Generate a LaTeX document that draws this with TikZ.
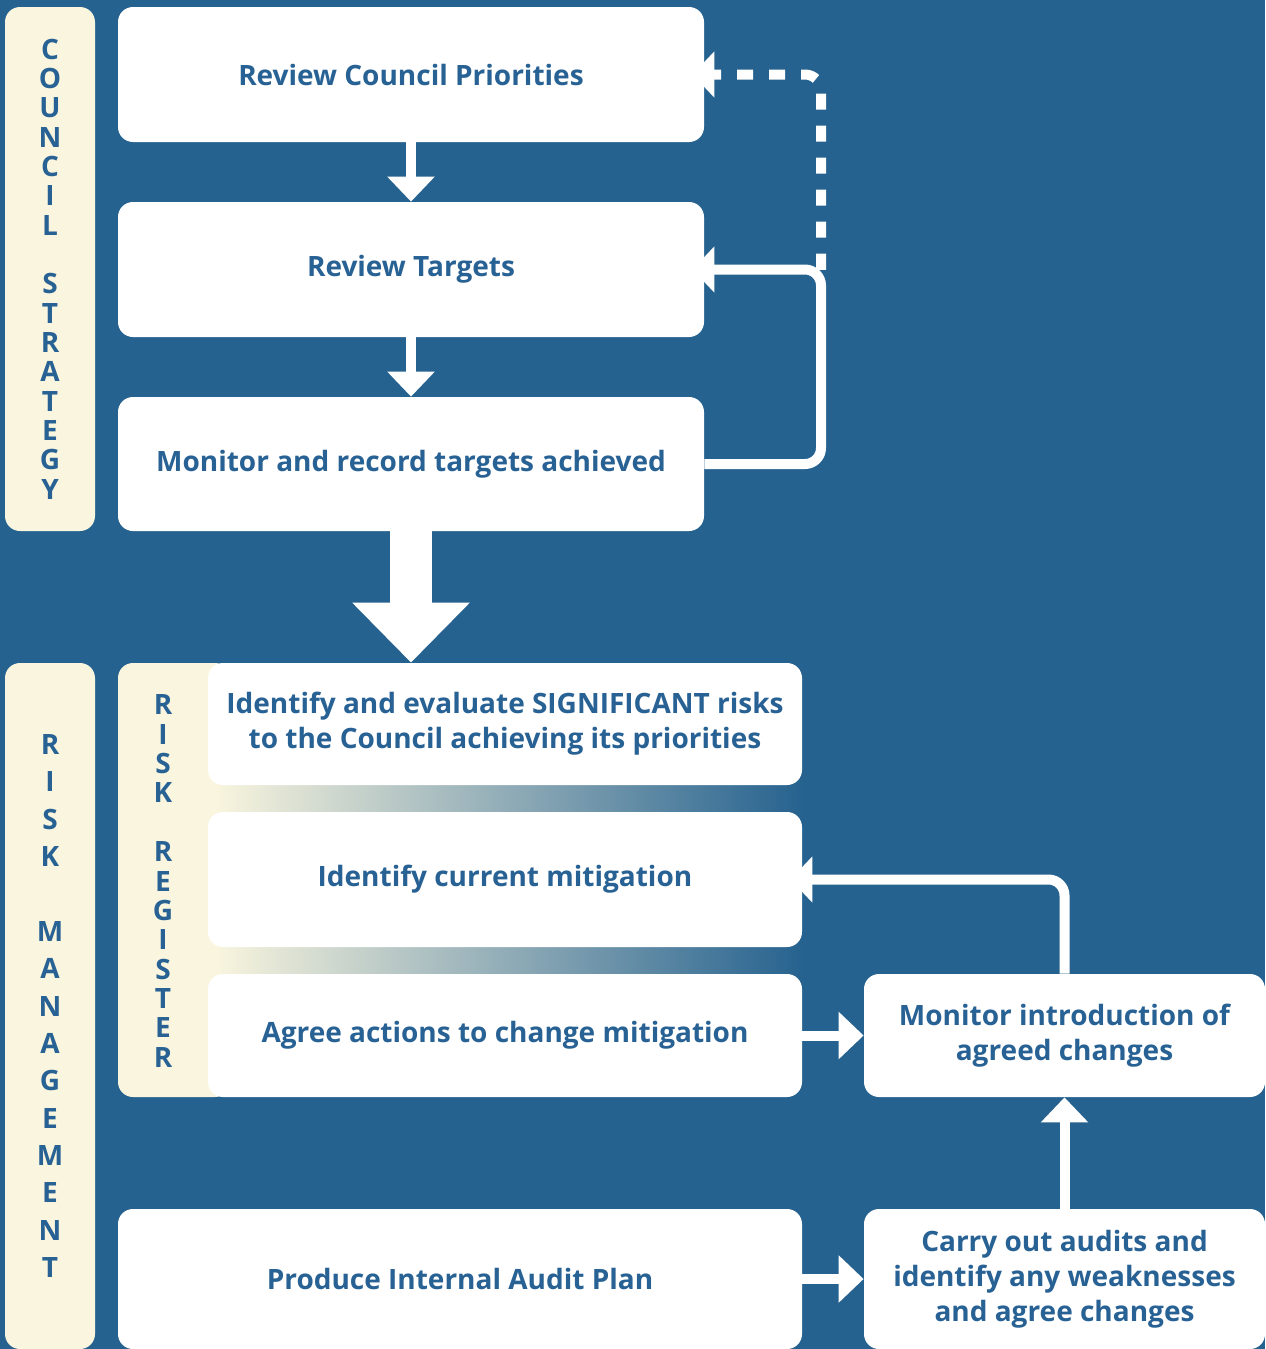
\documentclass[tikz,border=0pt]{standalone}
\usepackage{fontspec}
\setmainfont{Open Sans}
\usepackage{tikz}
\usetikzlibrary{arrows.meta, positioning, calc}

\definecolor{bgblue}{RGB}{38,98,143}
\definecolor{txtblue}{RGB}{40,98,148}
\definecolor{cream}{RGB}{249,245,222}
\definecolor{midgrey}{RGB}{168,172,188}

\begin{document}
\begin{tikzpicture}[
  x=0.5pt, y=-0.5pt,
  box/.style={rectangle, rounded corners=7.5pt, fill=white, text=txtblue, inner sep=0pt, align=center, font=\bfseries\fontsize{14}{17.5}\selectfont},
  side/.style={rectangle, rounded corners=7.5pt, fill=cream, text=txtblue, inner sep=0pt, align=center, minimum width=45pt},
  strip/.style={left color=cream, middle color=midgrey, right color=bgblue},
  fatarrow/.style={white, line width=5pt, -{Triangle[width=23pt, length=12.5pt]}},
  bigarrow/.style={white, line width=21pt, -{Triangle[width=57pt, length=30pt]}},
  loopline/.style={white, line width=5pt, rounded corners=8pt, -{Triangle[width=22.5pt, length=11pt]}, shorten >=-6pt},
  dashline/.style={loopline, dash pattern=on 8pt off 8pt}
]
  \useasboundingbox (0,0) rectangle (1265,1349);
  \fill[bgblue] (0,0) rectangle (1265,1349);

  % side bars
  \node[side, minimum height=262pt, font=\bfseries\fontsize{14}{14.67}\selectfont] (cs) at (50,269)
    {C\\O\\U\\N\\C\\I\\L\\~\\S\\T\\R\\A\\T\\E\\G\\Y};
  \node[side, minimum height=343pt, font=\bfseries\fontsize{14}{18.68}\selectfont] (rm) at (50,1006)
    {R\\I\\S\\K\\~\\M\\A\\N\\A\\G\\E\\M\\E\\N\\T};
  \fill[cream, rounded corners=7.5pt] (118,663) rectangle (230,1097);
  \node[text=txtblue, align=center, inner sep=0pt, font=\bfseries\fontsize{14}{14.67}\selectfont] (rr) at (163,881)
    {R\\I\\S\\K\\~\\R\\E\\G\\I\\S\\T\\E\\R};

  % register strips
  \shade[strip] (215,780) rectangle (803,817);
  \shade[strip] (215,942) rectangle (803,979);

  % council strategy
  \node[box, minimum width=293pt, minimum height=67.5pt] (b1) at (411,74.5) {Review Council Priorities};
  \node[box, minimum width=293pt, minimum height=67.5pt] (b2) at (411,269.5) {Review Targets};
  \node[box, minimum width=293pt, minimum height=67pt] (b3) at (411,464) {Monitor and record targets achieved};

  % risk management
  \node[box, minimum width=297pt, minimum height=61pt] (ba) at (505,724)
    {Identify and evaluate SIGNIFICANT risks\\to the Council achieving its priorities};
  \node[box, minimum width=297pt, minimum height=67.5pt] (bb) at (505,879.5) {Identify current mitigation};
  \node[box, minimum width=297pt, minimum height=61.5pt] (bc) at (505,1035.5) {Agree actions to change mitigation};
  \node[box, minimum width=200.5pt, minimum height=61.5pt] (bd) at (1064.5,1035.5) {Monitor introduction of\\agreed changes};
  \node[box, minimum width=342pt, minimum height=70pt] (bf) at (460,1279) {Produce Internal Audit Plan};
  \node[box, minimum width=200.5pt, minimum height=70pt] (be) at (1064.5,1279)
    {Carry out audits and\\identify any weaknesses\\and agree changes};

  \coordinate (fb) at (821,269.5);

  \draw[fatarrow] (b1.south) -- (b2.north);
  \draw[fatarrow] (b2.south) -- (b3.north);
  \draw[loopline] (b3.east) -| (fb) -- (b2.east);
  \draw[dashline] (fb) |- (b1.east);
  \draw[loopline, -] (fb) -- ++(0,-4);
  \draw[bigarrow] (b3.south) -- (b3.south |- ba.north);

  \draw[fatarrow] (bc.east) -- (bd.west);
  \draw[fatarrow] (bf.east) -- (be.west);
  \draw[fatarrow] (be.north) -- (bd.south);
  \draw[loopline] (bd.north) |- (bb.east);
\end{tikzpicture}
\end{document}
